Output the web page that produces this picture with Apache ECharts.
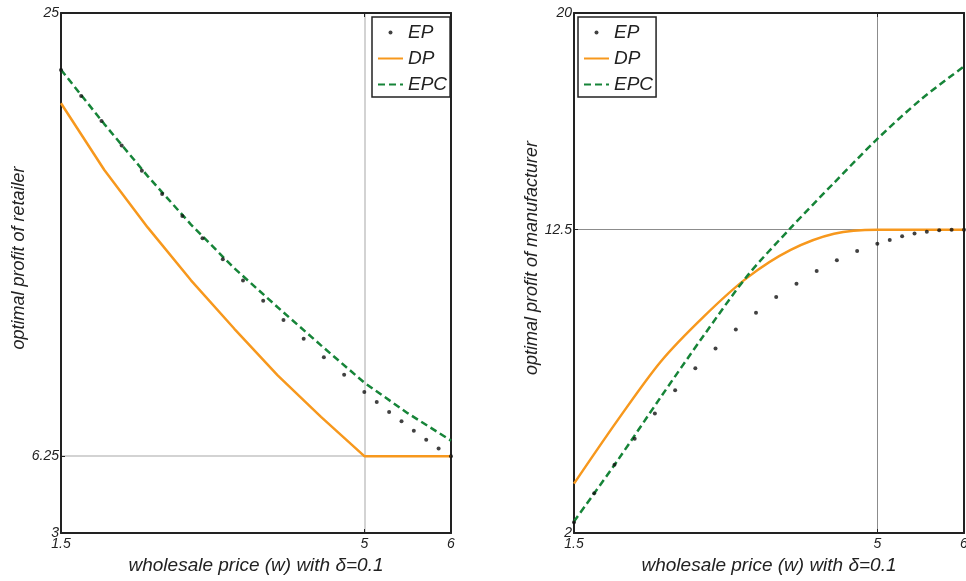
<!DOCTYPE html>
<html><head><meta charset="utf-8">
<script src="https://cdn.jsdelivr.net/npm/echarts@6/dist/echarts.min.js"></script>
<style>html,body{margin:0;padding:0;background:#fff}#c{width:966px;height:581px}</style>
</head><body><div id="c"></div>
<script>
// ---- data ----
const epX = [1.5, 1.733, 1.967, 2.2, 2.433, 2.667, 2.9, 3.133, 3.367, 3.6, 3.833, 4.067, 4.3, 4.533, 4.767, 5.0, 5.143, 5.286, 5.429, 5.571, 5.714, 5.857, 6.0];
const lineX = [1.5, 2, 2.5, 3, 3.5, 4, 4.5, 5, 5.5, 6];
const retailerEP = [22.59, 21.49, 20.43, 19.39, 18.33, 17.34, 16.41, 15.47, 14.58, 13.68, 12.83, 12.01, 11.22, 10.44, 9.70, 8.97, 8.54, 8.12, 7.73, 7.33, 6.94, 6.57, 6.25];
const retailerDP = [21.18, 18.36, 15.93, 13.69, 11.64, 9.67, 7.91, 6.25, 6.25, 6.25];
const retailerEPC = [22.6, 20.3, 18.1, 16.05, 14.2, 12.55, 10.94, 9.36, 8.07, 6.91];
const manufEP = [2.37, 3.38, 4.36, 5.26, 6.14, 6.94, 7.70, 8.39, 9.04, 9.62, 10.17, 10.63, 11.07, 11.44, 11.76, 12.01, 12.14, 12.27, 12.37, 12.43, 12.48, 12.50, 12.50];
const manufDP = [3.71, 5.89, 7.93, 9.50, 10.84, 11.80, 12.36, 12.5, 12.5, 12.5];
const manufEPC = [2.40, 4.5, 6.7, 8.85, 10.9, 12.56, 14.12, 15.64, 17.0, 18.15];
const xTicks = [1.5, 5, 6];
const yTicksRetailer = [3, 6.25, 25];
const yTicksManuf = [2, 12.5, 20];
const xTitle = 'wholesale price (w) with δ=0.1';
const yTitleRetailer = 'optimal profit of retailer';
const yTitleManuf = 'optimal profit of manufacturer';
const names = ['EP', 'DP', 'EPC'];

// ---- helpers ----
const FONT = "'Liberation Sans', Arial, Helvetica, sans-serif";
const AXC = '#222';
const ORANGE = '#F7981D';
const GREEN = '#168438';
const zip = (xs, ys) => xs.map((x, i) => [x, ys[i]]);

function xAxes(gi, gridColor, gridWidth) {
  return [{
    type: 'value', gridIndex: gi, min: 1.5, max: 6, position: 'bottom',
    axisLine: { show: true, onZero: false, lineStyle: { color: AXC, width: 2 } },
    axisTick: { show: true, inside: true, length: 4, customValues: xTicks, lineStyle: { color: AXC } },
    axisLabel: { customValues: xTicks, margin: 4, fontSize: 14, fontStyle: 'italic', color: AXC, fontFamily: FONT },
    splitLine: { show: true, lineStyle: { color: gridColor, width: gridWidth } },
    name: xTitle, nameLocation: 'middle', nameGap: 23,
    nameTextStyle: { fontSize: 19, fontStyle: 'italic', color: AXC, fontFamily: FONT }
  }, {
    type: 'value', gridIndex: gi, min: 1.5, max: 6, position: 'top',
    axisLine: { show: true, onZero: false, lineStyle: { color: AXC, width: 2 } },
    axisTick: { show: true, inside: true, length: 4, customValues: xTicks, lineStyle: { color: AXC } },
    axisLabel: { show: false }, splitLine: { show: false }
  }];
}
function yAxes(gi, mn, mx, ticks, title, gridColor, gridWidth) {
  return [{
    type: 'value', gridIndex: gi, min: mn, max: mx, position: 'left',
    axisLine: { show: true, onZero: false, lineStyle: { color: AXC, width: 2 } },
    axisTick: { show: true, inside: true, length: 4, customValues: ticks, lineStyle: { color: AXC } },
    axisLabel: { customValues: ticks, margin: 2, fontSize: 14, fontStyle: 'italic', color: AXC, fontFamily: FONT },
    splitLine: { show: true, lineStyle: { color: gridColor, width: gridWidth } },
    name: title, nameLocation: 'middle', nameGap: 33,
    nameTextStyle: { fontSize: 18, fontStyle: 'italic', color: AXC, fontFamily: FONT, padding: [0, 0, 0, 30] }
  }, {
    type: 'value', gridIndex: gi, min: mn, max: mx, position: 'right',
    axisLine: { show: true, onZero: false, lineStyle: { color: AXC, width: 2 } },
    axisTick: { show: true, inside: true, length: 4, customValues: ticks, lineStyle: { color: AXC } },
    axisLabel: { show: false }, splitLine: { show: false }
  }];
}
function seriesFor(gi, ep, dp, epc, smooth) {
  return [{
    name: names[0], type: 'scatter', xAxisIndex: gi * 2, yAxisIndex: gi * 2,
    data: zip(epX, ep), symbol: 'circle', symbolSize: 4,
    itemStyle: { color: '#111' }, z: 5
  }, {
    name: names[1], type: 'line', xAxisIndex: gi * 2, yAxisIndex: gi * 2,
    data: zip(lineX, dp), symbol: 'none', smooth: smooth,
    lineStyle: { color: ORANGE, width: 2.5 }, itemStyle: { color: ORANGE }, z: 3
  }, {
    name: names[2], type: 'line', xAxisIndex: gi * 2, yAxisIndex: gi * 2,
    data: zip(lineX, epc), symbol: 'none', smooth: smooth,
    lineStyle: { color: GREEN, width: 2.5, type: [7, 4] }, itemStyle: { color: GREEN }, z: 4
  }];
}
function legendAt(left) {
  return {
    orient: 'vertical', left: left, top: 17,
    padding: [6, 3, 3, 5], itemGap: 7, itemWidth: 25, itemHeight: 4,
    borderColor: AXC, borderWidth: 1.5, backgroundColor: '#fff',
    selectedMode: false,
    textStyle: { fontSize: 19, fontStyle: 'italic', color: AXC, fontFamily: FONT },
    data: [
      { name: 'EP' },
      { name: 'DP', itemStyle: { opacity: 0 } },
      { name: 'EPC', itemStyle: { opacity: 0 } }
    ]
  };
}

const chart = echarts.init(document.getElementById('c'), null, { renderer: 'canvas' });
chart.setOption({
  animation: false,
  backgroundColor: '#fff',
  grid: [
    { left: 61, top: 13, width: 390, height: 520, show: false, containLabel: false, outerBoundsMode: 'none' },
    { left: 574, top: 13, width: 390, height: 520, show: false, containLabel: false, outerBoundsMode: 'none' }
  ],
  xAxis: [...xAxes(0, '#c4c4c4', 1.5), ...xAxes(1, '#8c8c8c', 1)],
  yAxis: [...yAxes(0, 3, 25, yTicksRetailer, yTitleRetailer, '#c4c4c4', 1.5),
          ...yAxes(1, 2, 20, yTicksManuf, yTitleManuf, '#8c8c8c', 1)],
  legend: [legendAt(372), legendAt(578)],
  series: [...seriesFor(0, retailerEP, retailerDP, retailerEPC, false),
           ...seriesFor(1, manufEP, manufDP, manufEPC, 0.3)]
});
</script></body></html>
